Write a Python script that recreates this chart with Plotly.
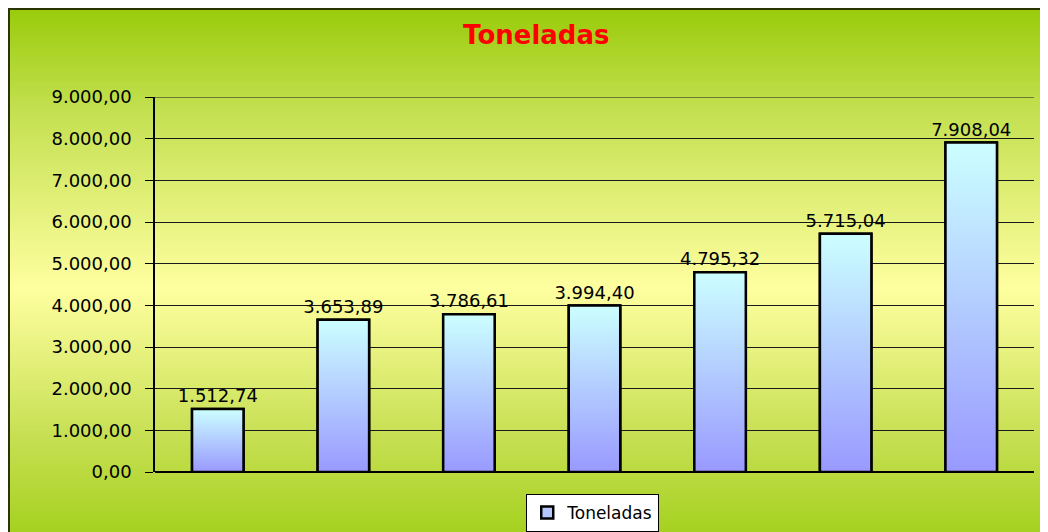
import base64
import struct
import zlib

import plotly.graph_objects as go

# ── 데이터 ──────────────────────────────────────────────────────────────────
posiciones = [0, 1, 2, 3, 4, 5, 6]
toneladas = [1512.74, 3653.89, 3786.61, 3994.40, 4795.32, 5715.04, 7908.04]
y_ticks = [0, 1000, 2000, 3000, 4000, 5000, 6000, 7000, 8000, 9000]

# 페이지 body 여백(8px)을 감안한 크기
W, H = 1040, 524
ML, MR, MT, MB = 147, 14, 89, 60
BAR_W = 0.41
FONT = "DejaVu Sans"


def _gradient_png(stops, height=200):
    """1px wide vertical gradient png as data uri (top -> bottom)."""
    rows = b""
    for i in range(height):
        t = i / (height - 1)
        for (t0, c0), (t1, c1) in zip(stops[:-1], stops[1:]):
            if t0 <= t <= t1:
                f = (t - t0) / (t1 - t0) if t1 > t0 else 0
                c = [round(a + (b - a) * f) for a, b in zip(c0, c1)]
                break
        rows += b"\x00" + bytes(c)
    def chunk(tag, data):
        return struct.pack(">I", len(data)) + tag + data + struct.pack(">I", zlib.crc32(tag + data) & 0xFFFFFFFF)
    png = b"\x89PNG\r\n\x1a\n"
    png += chunk(b"IHDR", struct.pack(">IIBBBBB", 1, height, 8, 2, 0, 0, 0))
    png += chunk(b"IDAT", zlib.compress(rows))
    png += chunk(b"IEND", b"")
    return "data:image/png;base64," + base64.b64encode(png).decode()


bg = _gradient_png([
    (0.0, (154, 204, 12)),
    (0.18, (196, 224, 80)),
    (0.50, (255, 255, 160)),
    (0.76, (200, 224, 84)),
    (1.0, (154, 204, 14)),
])

fig = go.Figure()

# 범례/텍스트용 막대
fig.add_trace(go.Bar(
    x=posiciones, y=toneladas,
    width=BAR_W,
    name="Toneladas",
    marker=dict(color="#B4C8FF", line=dict(color="#000000", width=2.5)),
    texttemplate="%{y:,.2f}", textposition="outside",
    constraintext="none",
    textfont=dict(family=FONT, size=18, color="#000000"),
    cliponaxis=False,
))

# 그라데이션 막대
for x, v in zip(posiciones, toneladas):
    fig.add_trace(go.Scatter(
        x=[x - BAR_W / 2, x + BAR_W / 2, x + BAR_W / 2, x - BAR_W / 2, x - BAR_W / 2],
        y=[0, 0, v, v, 0],
        mode="lines", fill="toself",
        fillgradient=dict(type="vertical", colorscale=[[0, "#9999FF"], [1, "#CCFFFF"]]),
        line=dict(color="#000000", width=2.5),
        showlegend=False, hoverinfo="skip",
    ))

pw = W - ML - MR
ph = H - MT - MB
x0 = -ML / pw
y1 = 1 + MT / ph

fig.add_layout_image(dict(
    source=bg, xref="paper", yref="paper",
    x=x0, y=y1, sizex=1 - x0 + 0.1, sizey=y1 + MB / ph + 0.1,
    xanchor="left", yanchor="top", sizing="stretch", layer="below",
))
fig.add_shape(type="rect", xref="paper", yref="paper",
              x0=x0 + 1 / pw, y0=-MB / ph - 0.1, x1=1.2, y1=y1 - 1 / ph,
              line=dict(color="#2B3300", width=2), layer="below")
# 맨 위 눈금선 (축 끝과 겹쳐 생략되는 선)
fig.add_shape(type="line", xref="paper", yref="y",
              x0=0, x1=1, y0=y_ticks[-1], y1=y_ticks[-1],
              line=dict(color="#1A1A1A", width=1))

fig.update_layout(
    width=W, height=H,
    margin=dict(l=ML, r=MR, t=MT, b=MB, autoexpand=False),
    paper_bgcolor="#FFFFFF",
    plot_bgcolor="rgba(0,0,0,0)",
    separators=",.",
    title=dict(text="<b>Toneladas</b>", x=0.508, xanchor="center",
               y=1 - 27 / H, yanchor="middle",
               font=dict(family=FONT, size=26, color="#FF0000")),
    showlegend=True,
    legend=dict(orientation="h", x=0.498, xanchor="center",
                y=-(505 - (H - MB)) / ph, yanchor="middle",
                bgcolor="#FFFFFF", bordercolor="#000000", borderwidth=1,
                itemwidth=30,
                font=dict(family=FONT, size=17, color="#000000")),
    xaxis=dict(range=[-0.5, 6.5], showticklabels=False, showgrid=False,
               zeroline=False, showline=False, ticks=""),
    yaxis=dict(range=[0, 9000], tickvals=y_ticks, tickformat=",.2f",
               showgrid=True, gridcolor="#1A1A1A", gridwidth=1,
               zeroline=True, zerolinecolor="#000000", zerolinewidth=1.5,
               showline=True, linecolor="#000000", linewidth=1.5,
               ticks="outside", ticklen=8, tickcolor="#000000",
               ticklabelstandoff=10,
               tickfont=dict(family=FONT, size=18, color="#000000")),
)

fig.write_html("out.html")
